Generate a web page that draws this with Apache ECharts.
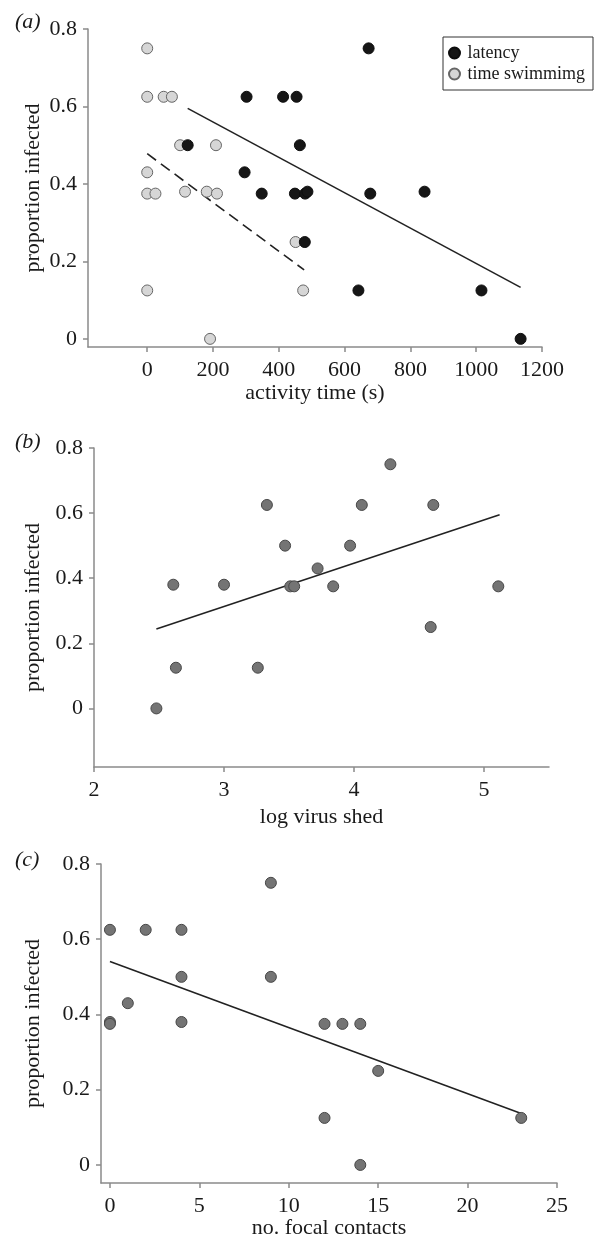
<!DOCTYPE html>
<html>
<head>
<meta charset="utf-8">
<script src="https://cdn.jsdelivr.net/npm/echarts@6/dist/echarts.min.js"></script>
<style>
html,body{margin:0;padding:0;background:#fff;}
#chart{width:603px;height:1241px;}
</style>
</head>
<body>
<div id="chart"></div>
<script>
// ---- Panel (a): activity time ----
var latencyX = [123, 302, 413, 454, 296, 348, 449, 464, 480, 487, 479, 673, 678, 843, 642, 1016, 1135];
var latencyY = [0.5, 0.625, 0.625, 0.625, 0.43, 0.375, 0.375, 0.5, 0.375, 0.38, 0.25, 0.75, 0.375, 0.38, 0.125, 0.125, 0];
var swimX = [0, 0, 50, 75, 100, 209, 0, 0, 25, 115, 181, 212, 451, 0, 191, 474];
var swimY = [0.75, 0.625, 0.625, 0.625, 0.5, 0.5, 0.43, 0.375, 0.375, 0.38, 0.38, 0.375, 0.25, 0.125, 0, 0.125];
var latencyFitX = [123, 1135];
var latencyFitY = [0.595, 0.133];
var swimFitX = [0, 477];
var swimFitY = [0.478, 0.178];
var ticksA = [0, 200, 400, 600, 800, 1000, 1200];

// ---- Panel (b): log virus shed ----
var shedX = [2.48, 2.61, 2.63, 3.0, 3.26, 3.33, 3.47, 3.51, 3.54, 3.72, 3.84, 3.97, 4.06, 4.28, 4.61, 4.59, 5.11];
var shedY = [0, 0.38, 0.125, 0.38, 0.125, 0.625, 0.5, 0.375, 0.375, 0.43, 0.375, 0.5, 0.625, 0.75, 0.625, 0.25, 0.375];
var shedFitX = [2.48, 5.12];
var shedFitY = [0.244, 0.595];
var ticksB = [2, 3, 4, 5];

// ---- Panel (c): focal contacts ----
var contactsX = [0, 0, 0, 1, 2, 4, 4, 4, 9, 9, 12, 13, 14, 15, 12, 14, 23];
var contactsY = [0.625, 0.38, 0.375, 0.43, 0.625, 0.625, 0.5, 0.38, 0.75, 0.5, 0.375, 0.375, 0.375, 0.25, 0.125, 0, 0.125];
var contactsFitX = [0, 23];
var contactsFitY = [0.541, 0.137];
var ticksC = [0, 5, 10, 15, 20, 25];

var yTicks = [0, 0.2, 0.4, 0.6, 0.8];
var yTitle = 'proportion infected';
var xTitles = ['activity time (s)', 'log virus shed', 'no. focal contacts'];
var panelLabels = ['(a)', '(b)', '(c)'];
var legendNames = ['latency', 'time swimmimg'];

function pairs(xs, ys) { return xs.map(function (x, i) { return [x, ys[i]]; }); }

var FONT = 'Liberation Serif';
var AXIS_COLOR = '#8a8a8a';
var TEXT_COLOR = '#1a1a1a';

function xAxisDef(idx, min, max, ticks, name, gap) {
  return {
    type: 'value', gridIndex: idx, min: min, max: max,
    name: name, nameLocation: 'middle', nameGap: gap, nameMoveOverlap: false,
    nameTextStyle: { fontFamily: FONT, fontSize: 22, color: TEXT_COLOR },
    axisLine: { show: true, onZero: false, lineStyle: { color: AXIS_COLOR, width: 1.5 } },
    axisTick: { show: true, length: 5, customValues: ticks, lineStyle: { color: AXIS_COLOR, width: 1.5 } },
    axisLabel: { customValues: ticks, margin: 12, fontFamily: FONT, fontSize: 22, color: TEXT_COLOR,
      formatter: function (v) { return String(v); } },
    splitLine: { show: false }
  };
}
function yAxisDef(idx, min, gap) {
  return {
    type: 'value', gridIndex: idx, min: min, max: 0.8,
    name: yTitle, nameLocation: 'middle', nameGap: gap, nameRotate: 90, nameMoveOverlap: false,
    nameTextStyle: { fontFamily: FONT, fontSize: 22, color: TEXT_COLOR },
    axisLine: { show: true, onZero: false, lineStyle: { color: AXIS_COLOR, width: 1.5 } },
    axisTick: { show: true, length: 5, customValues: yTicks, lineStyle: { color: AXIS_COLOR, width: 1.5 } },
    axisLabel: { customValues: yTicks, margin: 11, fontFamily: FONT, fontSize: 22, color: TEXT_COLOR,
      formatter: function (v) { return v === 0 ? '0' : v.toFixed(1); } },
    splitLine: { show: false }
  };
}
function fitLine(idx, xs, ys, dashed) {
  return {
    type: 'line', xAxisIndex: idx, yAxisIndex: idx, data: pairs(xs, ys),
    symbol: 'none', silent: true, z: 1,
    lineStyle: { color: '#222', width: 1.6, type: dashed ? [11, 6] : 'solid' }
  };
}
var greyDot = { color: '#747474', borderColor: '#474747', borderWidth: 1, opacity: 1 };

var chart = echarts.init(document.getElementById('chart'), null, { renderer: 'canvas' });
chart.setOption({
  backgroundColor: '#fff',
  animation: false,
  textStyle: { fontFamily: FONT },
  grid: [
    { left: 88, top: 29, width: 454, height: 318 },
    { left: 94, top: 448, width: 455, height: 319 },
    { left: 101, top: 864, width: 456, height: 319 }
  ],
  xAxis: [
    xAxisDef(0, -180, 1200, ticksA, xTitles[0], 35),
    xAxisDef(1, 2, 5.5, ticksB, xTitles[1], 39),
    xAxisDef(2, -0.5, 25, ticksC, xTitles[2], 34)
  ],
  yAxis: [
    yAxisDef(0, -0.021, 44),
    yAxisDef(1, -0.18, 50),
    yAxisDef(2, -0.048, 57)
  ],
  legend: {
    data: legendNames,
    orient: 'vertical', left: 443, top: 37,
    padding: [6, 8, 6, 5], itemGap: 1,
    itemWidth: 16, itemHeight: 11,
    borderColor: '#333', borderWidth: 1,
    textStyle: { fontFamily: FONT, fontSize: 18, color: TEXT_COLOR, lineHeight: 20 }
  },
  graphic: [
    { type: 'text', left: 15, top: 11, style: { text: panelLabels[0], font: 'italic 22px "Liberation Serif"', fill: TEXT_COLOR } },
    { type: 'text', left: 15, top: 431, style: { text: panelLabels[1], font: 'italic 22px "Liberation Serif"', fill: TEXT_COLOR } },
    { type: 'text', left: 15, top: 849, style: { text: panelLabels[2], font: 'italic 22px "Liberation Serif"', fill: TEXT_COLOR } }
  ],
  series: [
    fitLine(0, latencyFitX, latencyFitY, false),
    fitLine(0, swimFitX, swimFitY, true),
    { name: legendNames[1], type: 'scatter', xAxisIndex: 0, yAxisIndex: 0, symbolSize: 11, z: 3,
      data: pairs(swimX, swimY), itemStyle: { color: '#d6d6d6', borderColor: '#666', borderWidth: 1, opacity: 1 } },
    { name: legendNames[0], type: 'scatter', xAxisIndex: 0, yAxisIndex: 0, symbolSize: 11, z: 4,
      data: pairs(latencyX, latencyY), itemStyle: { color: '#161616', borderColor: '#0d0d0d', borderWidth: 1, opacity: 1 } },
    fitLine(1, shedFitX, shedFitY, false),
    { type: 'scatter', xAxisIndex: 1, yAxisIndex: 1, symbolSize: 11, z: 3,
      data: pairs(shedX, shedY), itemStyle: greyDot },
    fitLine(2, contactsFitX, contactsFitY, false),
    { type: 'scatter', xAxisIndex: 2, yAxisIndex: 2, symbolSize: 11, z: 3,
      data: pairs(contactsX, contactsY), itemStyle: greyDot }
  ]
});
</script>
</body>
</html>
